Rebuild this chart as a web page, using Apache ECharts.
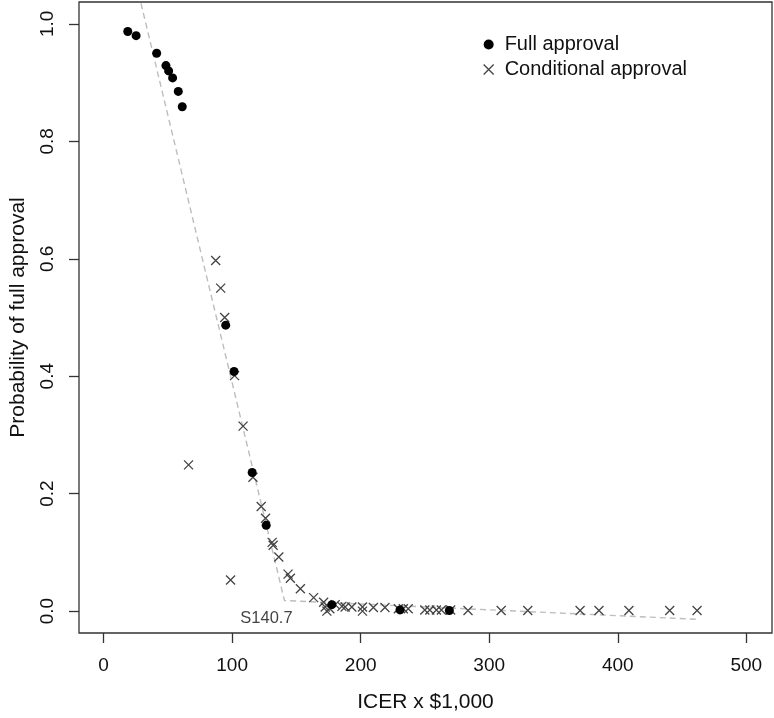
<!DOCTYPE html>
<html>
<head>
<meta charset="utf-8">
<script src="https://cdn.jsdelivr.net/npm/echarts@6/dist/echarts.min.js"></script>
<style>html,body{margin:0;padding:0;background:#fff;}#c{width:774px;height:718px;}</style>
</head>
<body>
<div id="c"></div>
<script>
// Full approval (filled circles)
var fullX = [18.8, 25.3, 41.3, 48.5, 50.6, 53.7, 58.1, 61.2, 95.0, 101.5, 115.6, 126.5, 177.6, 230.6, 269.0];
var fullY = [0.987, 0.980, 0.950, 0.929, 0.920, 0.908, 0.885, 0.859, 0.487, 0.408, 0.236, 0.146, 0.011, 0.002, 0.001];
// Conditional approval (crosses)
var condX = [87.2, 91.1, 94.2, 101.9, 108.5, 66.1, 116.2, 122.6, 126.0, 131.1, 131.9, 136.3, 98.8, 143.5, 145.3, 153.1, 163.4, 171.2, 172.4, 173.7, 176.0, 180.2, 185.4, 187.9, 193.1, 201.4, 201.4, 209.9, 218.9, 229.3, 233.2, 237.0, 249.9, 253.8, 258.9, 262.8, 270.0, 283.5, 309.3, 330.0, 370.7, 385.4, 408.7, 440.4, 461.7];
var condY = [0.597, 0.550, 0.500, 0.401, 0.315, 0.249, 0.228, 0.178, 0.158, 0.117, 0.112, 0.092, 0.053, 0.063, 0.056, 0.038, 0.023, 0.015, 0.007, 0.000, 0.004, 0.011, 0.008, 0.007, 0.007, 0.007, 0.000, 0.006, 0.006, 0.004, 0.004, 0.004, 0.002, 0.002, 0.002, 0.002, 0.002, 0.001, 0.001, 0.001, 0.001, 0.001, 0.001, 0.001, 0.001];
// Fitted piecewise line
var lineX = [20, 140.7, 462];
var lineY = [1.118, 0.018, -0.014];
// Threshold annotation
var thresholdX = 140.7;
var thresholdY = 0.018;
var thresholdLabel = 'S140.7';
// Ticks
var xTicks = [0, 100, 200, 300, 400, 500];
var yTicks = [0, 0.2, 0.4, 0.6, 0.8, 1.0];

function zip(a, b) { return a.map(function (v, i) { return [v, b[i]]; }); }

var FONT = 'Liberation Sans, Arial, sans-serif';
var crossPath = 'path://M0,0L10,10M10,0L0,10';

var chart = echarts.init(document.getElementById('c'), null, {renderer: 'canvas'});
chart.setOption({
  backgroundColor: '#ffffff',
  animation: false,
  textStyle: {fontFamily: FONT},
  grid: {
    left: 76, right: 2, top: 2, bottom: 82,
    show: true, borderColor: '#333', borderWidth: 1.3, backgroundColor: 'transparent'
  },
  legend: {
    orient: 'vertical',
    left: 478, top: 29,
    itemWidth: 10, itemHeight: 10, itemGap: 4,
    textStyle: {fontFamily: FONT, fontSize: 20, color: '#111', lineHeight: 21, padding: [0, 0, 0, 6]},
    data: [
      {name: 'Full approval', icon: 'circle', itemStyle: {color: '#000', borderWidth: 0}},
      {name: 'Conditional approval', icon: crossPath, itemStyle: {color: 'transparent', borderColor: '#444', borderWidth: 1.3}}
    ]
  },
  xAxis: {
    type: 'value',
    min: -19.13, max: 520,
    axisLine: {show: false, onZero: false},
    splitLine: {show: false},
    axisTick: {show: true, customValues: xTicks, length: 10, lineStyle: {color: '#333', width: 1.3}},
    axisLabel: {customValues: xTicks, margin: 23, fontSize: 19, color: '#111', fontFamily: FONT},
    name: 'ICER x $1,000',
    nameLocation: 'middle',
    nameGap: 59,
    nameTextStyle: {fontSize: 21, color: '#111', fontFamily: FONT}
  },
  yAxis: {
    type: 'value',
    min: -0.0373, max: 1.0373,
    axisLine: {show: false, onZero: false},
    splitLine: {show: false},
    axisTick: {show: true, customValues: yTicks, length: 10, lineStyle: {color: '#333', width: 1.3}},
    axisLabel: {customValues: yTicks, margin: 22, rotate: 90, fontSize: 19, color: '#111', fontFamily: FONT,
      formatter: function (v) { return v.toFixed(1); }},
    name: 'Probability of full approval',
    nameLocation: 'middle',
    nameGap: 50,
    nameTextStyle: {fontSize: 21, color: '#111', fontFamily: FONT}
  },
  series: [
    {
      name: 'fit', type: 'line', data: zip(lineX, lineY), symbol: 'none', clip: true,
      lineStyle: {color: '#bdbdbd', width: 1.4, type: [6, 4]}, silent: true, z: 1
    },
    {
      name: 'Conditional approval', type: 'scatter', data: zip(condX, condY),
      symbol: crossPath, symbolSize: 9,
      itemStyle: {color: 'transparent', borderColor: '#444', borderWidth: 1.3, opacity: 1}, z: 2
    },
    {
      name: 'Full approval', type: 'scatter', data: zip(fullX, fullY),
      symbol: 'circle', symbolSize: 9,
      itemStyle: {color: '#000', opacity: 1}, z: 3
    },
    {
      name: 'threshold', type: 'scatter', data: [[thresholdX, thresholdY]],
      symbol: 'circle', symbolSize: 1, silent: true,
      itemStyle: {color: 'rgba(0,0,0,0)'},
      label: {show: true, formatter: thresholdLabel, position: 'inside', offset: [-18, 18],
        fontSize: 16.5, color: '#111', fontFamily: FONT}
    }
  ]
});
</script>
</body>
</html>
